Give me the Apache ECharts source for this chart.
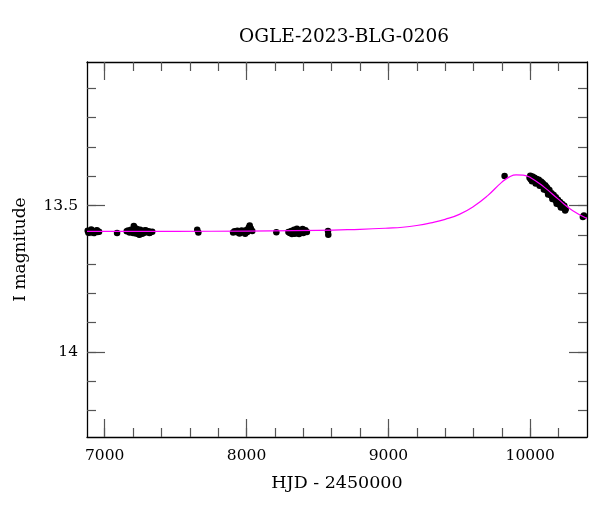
<!DOCTYPE html>
<html>
<head>
<meta charset="utf-8">
<script src="https://cdn.jsdelivr.net/npm/echarts@6/dist/echarts.min.js"></script>
<style>html,body{margin:0;padding:0;background:#fff}#c{width:600px;height:512px}</style>
</head>
<body>
<div id="c"></div>
<script>
var titleText = 'OGLE-2023-BLG-0206';
var xName = 'HJD - 2450000';
var yName = 'I magnitude';
var xMajorTicks = [7000, 8000, 9000, 10000];
var xMinorTicks = [7000,7200,7400,7600,7800,8000,8200,8400,8600,8800,9000,9200,9400,9600,9800,10000,10200];
var yMajorTicks = [13.5, 14];
var yMinorTicks = [13.1,13.2,13.3,13.4,13.5,13.6,13.7,13.8,13.9,14.0,14.1,14.2];
var xRange = [6875, 10400];
var yRange = [13.01, 14.29];

var observations = [
  [6880,13.586],[6890,13.590],[6900,13.588],[6910,13.585],[6920,13.591],[6930,13.588],[6940,13.586],[6950,13.590],[6960,13.589],[6905,13.582],[6925,13.594],[6885,13.593],[6945,13.584],
  [7087,13.594],
  [7155,13.588],[7165,13.585],[7175,13.592],[7185,13.583],[7195,13.590],[7205,13.570],[7212,13.576],[7220,13.595],[7230,13.586],[7240,13.598],[7250,13.583],[7260,13.590],[7270,13.587],[7280,13.593],[7290,13.585],[7300,13.590],[7310,13.588],[7320,13.592],[7335,13.589],[7228,13.580],[7245,13.600],[7200,13.594],[7265,13.596],[7285,13.584],[7315,13.594],
  [7652,13.583],[7660,13.592],
  [7905,13.592],[7915,13.588],[7925,13.590],[7935,13.586],[7945,13.593],[7955,13.589],[7965,13.585],[7975,13.591],[7985,13.588],[7995,13.584],[8005,13.590],[8015,13.576],[8022,13.568],[8030,13.578],[8040,13.587],[7990,13.596],[7950,13.595],[8010,13.582],
  [8210,13.591],
  [8295,13.590],[8305,13.594],[8315,13.587],[8325,13.592],[8335,13.583],[8345,13.589],[8355,13.579],[8365,13.585],[8375,13.591],[8385,13.586],[8395,13.580],[8405,13.588],[8415,13.584],[8425,13.590],[8340,13.596],[8370,13.597],[8320,13.597],[8400,13.594],
  [8574,13.587],[8576,13.600],
  [9819,13.399],
  [9995,13.405],[10003,13.410],[10010,13.408],[10018,13.414],[10025,13.412],[10033,13.418],[10040,13.416],[10048,13.421],[10055,13.424],[10062,13.422],[10070,13.428],[10078,13.431],[10085,13.430],[10093,13.436],[10100,13.440],[10108,13.445],[10115,13.448],[10122,13.452],[10130,13.456],[10137,13.460],[10145,13.465],[10152,13.468],[10160,13.472],[10168,13.477],[10175,13.480],[10183,13.485],[10190,13.489],[10198,13.492],[10205,13.496],[10213,13.499],[10220,13.503],[10228,13.505],[10236,13.508],[10244,13.510],[10250,13.512],
  [10000,13.398],[10015,13.401],[10030,13.405],[10045,13.409],[10060,13.412],[10075,13.418],[10090,13.425],[10105,13.431],[10120,13.440],[10135,13.447],[10150,13.458],[10165,13.464],[10180,13.472],[10195,13.480],[10210,13.488],[10225,13.495],[10240,13.501],
  [10012,13.417],[10038,13.425],[10066,13.432],[10096,13.445],[10126,13.462],[10156,13.478],[10186,13.494],[10216,13.507],[10246,13.517],
  [10022,13.404],[10052,13.413],[10082,13.421],[10112,13.436],
  [10371,13.539],[10378,13.534]
];

var model = [
  [6875,13.588],[7500,13.588],[8000,13.587],[8500,13.585],[8800,13.581],[9000,13.577],[9100,13.574],[9200,13.568],[9300,13.559],[9400,13.547],[9500,13.530],[9600,13.503],[9700,13.466],[9800,13.420],[9850,13.403],[9900,13.395],[9950,13.396],[10000,13.404],[10100,13.438],[10200,13.479],[10300,13.518],[10400,13.544]
];

var FONT = 'DejaVu Serif';
var tickColor = '#555';
function fmt(v) { return String(v); }
function xAx(pos, ticks, len, withLabel, showLine) {
  return {
    type: 'value', position: pos, min: xRange[0], max: xRange[1], gridIndex: 0,
    splitLine: {show: false},
    axisLine: {show: showLine, onZero: false, lineStyle: {color: '#000', width: 1.3}},
    axisTick: {show: true, inside: true, length: len, customValues: ticks, lineStyle: {color: tickColor, width: 1.2}},
    axisLabel: withLabel ? {show: true, customValues: ticks, formatter: fmt, margin: 11, color: '#000', fontFamily: FONT, fontSize: 15.5} : {show: false},
    name: withLabel ? xName : '', nameLocation: 'middle', nameGap: 37,
    nameTextStyle: {color: '#000', fontFamily: FONT, fontSize: 17.5}
  };
}
function yAx(pos, ticks, len, withLabel, showLine) {
  return {
    type: 'value', position: pos, min: yRange[0], max: yRange[1], inverse: true, gridIndex: 0,
    splitLine: {show: false},
    axisLine: {show: showLine, onZero: false, lineStyle: {color: '#000', width: 1.3}},
    axisTick: {show: true, inside: true, length: len, customValues: ticks, lineStyle: {color: tickColor, width: 1.2}},
    axisLabel: withLabel ? {show: true, customValues: ticks, formatter: fmt, margin: 9, color: '#000', fontFamily: FONT, fontSize: 15.5} : {show: false},
    name: withLabel ? yName : '', nameLocation: 'middle', nameGap: 58, nameRotate: 90,
    nameTextStyle: {color: '#000', fontFamily: FONT, fontSize: 17}
  };
}

var chart = echarts.init(document.getElementById('c'), null, {renderer: 'canvas'});
chart.setOption({
  animation: false,
  backgroundColor: '#fff',
  title: {text: titleText, left: 339, top: 23, textAlign: 'center',
    textStyle: {fontFamily: FONT, fontSize: 18.5, fontWeight: 'normal', color: '#000'}},
  grid: {left: 87, right: 13, top: 62, bottom: 75, containLabel: false},
  xAxis: [
    xAx('bottom', xMajorTicks, 18, true, true),
    xAx('bottom', xMinorTicks, 9, false, false),
    xAx('top', xMajorTicks, 18, false, true),
    xAx('top', xMinorTicks, 9, false, false)
  ],
  yAxis: [
    yAx('left', yMajorTicks, 18, true, true),
    yAx('left', yMinorTicks, 9, false, false),
    yAx('right', yMajorTicks, 18, false, true),
    yAx('right', yMinorTicks, 9, false, false)
  ],
  series: [
    {type: 'scatter', xAxisIndex: 0, yAxisIndex: 0, data: observations, symbol: 'circle', symbolSize: 6.5,
      itemStyle: {color: '#000', opacity: 1}, z: 2, silent: true},
    {type: 'line', xAxisIndex: 0, yAxisIndex: 0, data: model, smooth: 0.5, showSymbol: false, symbol: 'none',
      lineStyle: {color: '#ff00ff', width: 1.2}, z: 3, silent: true}
  ]
});
</script>
</body>
</html>
